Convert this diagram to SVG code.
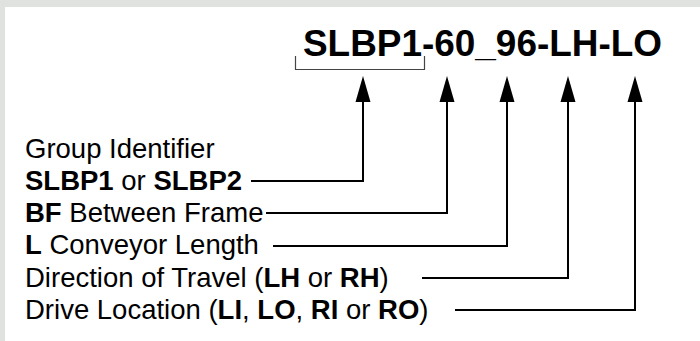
<svg xmlns="http://www.w3.org/2000/svg" width="700" height="341" viewBox="0 0 700 341">
<style>
.lbl{font-family:"Liberation Sans",Arial,sans-serif;font-size:27.5px;fill:#000}
.b{font-weight:bold}
.conn{fill:none;stroke:#000;stroke-width:2}
.head{fill:#000}
</style>
<rect x="0" y="0" width="700" height="341" fill="#e0e2e0"/>
<rect x="5" y="7" width="695" height="334" fill="#fff"/>
<g id="title">
<text x="303" y="55.5" font-family="Liberation Sans,Arial,sans-serif" font-size="37" font-weight="bold" textLength="359" lengthAdjust="spacingAndGlyphs">SLBP1-60_96-LH-LO</text>
<path d="M295.5,56 V69.5 H424.5 V56" fill="none" stroke="#444" stroke-width="1.2"/>
</g>
<g id="label-group">
<text class="lbl" x="25" y="158">Group Identifier</text>
<text class="lbl" x="25" y="190"><tspan class="b">SLBP1</tspan> or <tspan class="b">SLBP2</tspan></text>
</g>
<g id="label-bf">
<text class="lbl" x="25" y="222"><tspan class="b">BF</tspan> Between Frame</text>
</g>
<g id="label-length">
<text class="lbl" x="25" y="254"><tspan class="b">L</tspan> Conveyor Length</text>
</g>
<g id="label-direction">
<text class="lbl" x="25" y="287">Direction of Travel (<tspan class="b">LH</tspan> or <tspan class="b">RH</tspan>)</text>
</g>
<g id="label-drive">
<text class="lbl" x="25" y="319">Drive Location (<tspan class="b">LI</tspan>, <tspan class="b">LO</tspan>, <tspan class="b">RI</tspan> or <tspan class="b">RO</tspan>)</text>
</g>
<g id="connectors">
<path class="conn" d="M251,181 H363 V100"/>
<path class="conn" d="M266,213 H447 V100"/>
<path class="conn" d="M273,246 H507 V100"/>
<path class="conn" d="M422,278 H568 V100"/>
<path class="conn" d="M455,310 H635 V100"/>
<polygon class="head" points="363,76 355.5,102 370.5,102"/>
<polygon class="head" points="447,76 439.5,102 454.5,102"/>
<polygon class="head" points="507,76 499.5,102 514.5,102"/>
<polygon class="head" points="568,76 560.5,102 575.5,102"/>
<polygon class="head" points="635,76 627.5,102 642.5,102"/>
</g>
</svg>
